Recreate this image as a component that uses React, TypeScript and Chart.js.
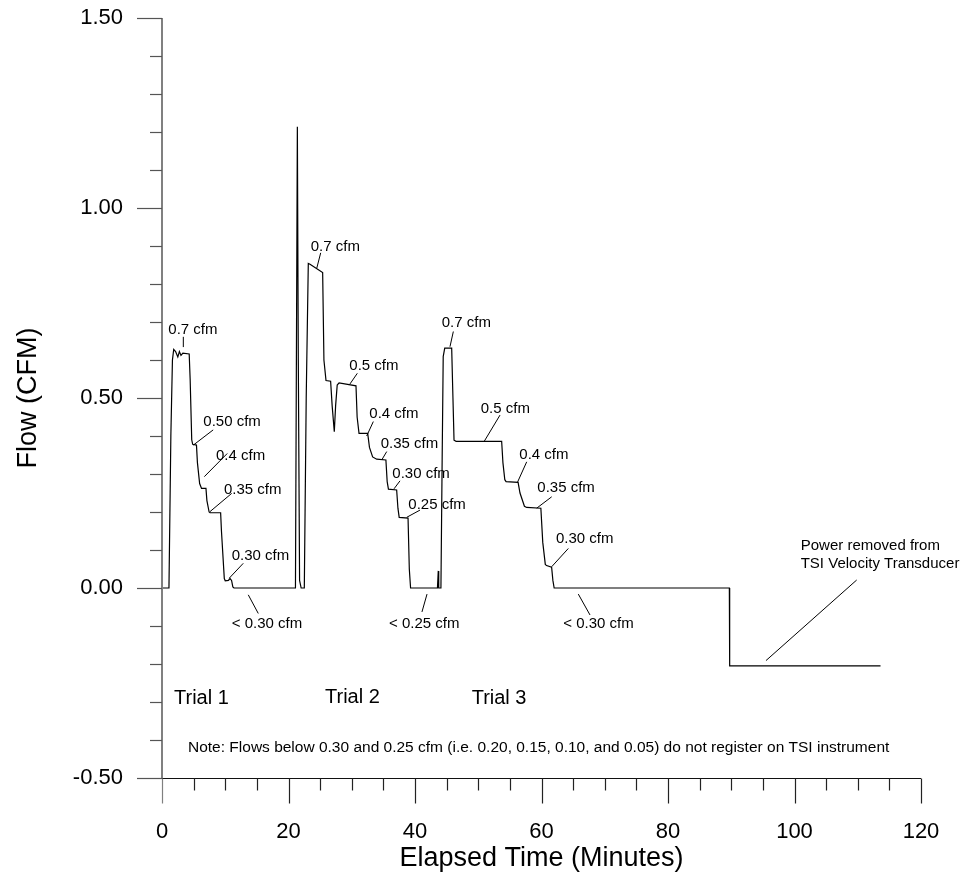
import { useEffect, useRef } from "react";
import { Chart, registerables } from "chart.js";

Chart.register(...registerables);

// ---- Data (elapsed minutes, flow in CFM) ----
const trial1Time = [0, 1.1, 1.4, 1.65, 1.85, 2.15, 2.5, 2.75, 3.0, 3.3, 4.3, 4.45, 4.7, 4.85, 5.45, 5.6, 5.95, 6.25, 6.95, 7.1, 7.45, 7.6, 9.27, 9.4, 9.85, 10.0, 10.5, 10.75, 11.0, 11.2, 11.38, 21.1];
const trial1Flow = [0, 0, 0.4, 0.6, 0.628, 0.622, 0.608, 0.622, 0.612, 0.618, 0.616, 0.55, 0.39, 0.378, 0.376, 0.33, 0.275, 0.262, 0.262, 0.23, 0.2, 0.198, 0.198, 0.15, 0.025, 0.019, 0.02, 0.025, 0.02, 0.003, 0, 0];

const trial2Time = [21.4, 21.55, 21.75, 22.0, 22.5, 22.8, 23.13, 23.4, 25.4, 25.6, 25.93, 26.66, 26.9, 27.24, 27.45, 27.7, 28.0, 30.67, 30.85, 31.15, 32.52, 32.8, 33.3, 33.94, 35.4, 35.6, 35.8, 37.1, 37.3, 37.5, 38.9, 39.1, 39.3, 43.55, 43.68, 43.75, 44.1];
const trial2Flow = [1.214, 0.6, 0.02, 0, 0, 0.5, 0.854, 0.852, 0.83, 0.6, 0.546, 0.544, 0.48, 0.411, 0.48, 0.534, 0.54, 0.532, 0.45, 0.407, 0.407, 0.37, 0.345, 0.339, 0.337, 0.28, 0.26, 0.258, 0.21, 0.186, 0.184, 0.05, 0, 0, 0.045, 0, 0];

const trial3Time = [44.3, 44.46, 44.7, 45.8, 46.0, 46.17, 46.5, 53.7, 53.9, 54.2, 54.4, 56.3, 56.6, 57.3, 57.66, 59.9, 60.2, 60.6, 60.8, 61.6, 61.8, 62.0, 89.7, 89.75, 113.6];
const trial3Flow = [0.35, 0.609, 0.631, 0.631, 0.5, 0.389, 0.386, 0.386, 0.33, 0.285, 0.28, 0.278, 0.25, 0.215, 0.212, 0.21, 0.12, 0.062, 0.059, 0.055, 0.02, 0, 0, -0.205, -0.205];

const xTickLabels = ["0", "20", "40", "60", "80", "100", "120"];
const yTickLabels = ["-0.50", "0.00", "0.50", "1.00", "1.50"];

const calloutTexts = [
  "0.7 cfm", "0.50 cfm", "0.4 cfm", "0.35 cfm", "0.30 cfm", "< 0.30 cfm",
  "0.7 cfm", "0.5 cfm", "0.4 cfm", "0.35 cfm", "0.30 cfm", "0.25 cfm", "< 0.25 cfm",
  "0.7 cfm", "0.5 cfm", "0.4 cfm", "0.35 cfm", "0.30 cfm", "< 0.30 cfm",
];
const trialLabels = ["Trial 1", "Trial 2", "Trial 3"];
const powerNote = ["Power removed from", "TSI Velocity Transducer"];
const footNote =
  "Note: Flows below 0.30 and 0.25 cfm (i.e. 0.20, 0.15, 0.10, and 0.05) do not register on TSI instrument";

// ---- Layout of the annotations (data coordinates) ----
const calloutLayout = [
  { tx: 1.0, ty: 0.679, l: [3.37, 0.634, 3.37, 0.661] },
  { tx: 6.53, ty: 0.437, l: [4.95, 0.376, 8.09, 0.416] },
  { tx: 8.54, ty: 0.347, l: [6.69, 0.293, 10.32, 0.354] },
  { tx: 9.8, ty: 0.258, l: [7.59, 0.201, 11.02, 0.249] },
  { tx: 11.02, ty: 0.084, l: [10.64, 0.026, 12.85, 0.065] },
  { tx: 11.02, ty: -0.095, l: [13.64, -0.018, 15.22, -0.067] },
  { tx: 23.51, ty: 0.898, l: [24.46, 0.841, 25.09, 0.882] },
  { tx: 29.61, ty: 0.584, l: [29.72, 0.537, 30.88, 0.565] },
  { tx: 32.78, ty: 0.458, l: [32.36, 0.4, 33.41, 0.438] },
  { tx: 34.58, ty: 0.379, l: [34.74, 0.337, 35.53, 0.359] },
  { tx: 36.41, ty: 0.3, l: [36.68, 0.261, 37.63, 0.282] },
  { tx: 38.94, ty: 0.218, l: [38.69, 0.186, 40.79, 0.205] },
  { tx: 35.89, ty: -0.095, l: [41.9, -0.016, 41.1, -0.063] },
  { tx: 44.22, ty: 0.697, l: [45.53, 0.635, 46.06, 0.675] },
  { tx: 50.39, ty: 0.471, l: [50.91, 0.385, 53.44, 0.455] },
  { tx: 56.49, ty: 0.35, l: [56.17, 0.277, 57.66, 0.332] },
  { tx: 59.34, ty: 0.263, l: [59.24, 0.21, 61.61, 0.24] },
  { tx: 62.29, ty: 0.129, l: [61.61, 0.056, 64.24, 0.104] },
  { tx: 63.45, ty: -0.095, l: [65.82, -0.016, 67.67, -0.071] },
];
const trialLayout = [
  { tx: 1.9, ty: -0.292 },
  { tx: 25.77, ty: -0.287 },
  { tx: 48.96, ty: -0.292 },
];
const powerLayout = { tx: 100.98, ty: [0.111, 0.063], l: [95.49, -0.191, 109.83, 0.021] };
const footLayout = { tx: 4.11, ty: -0.421 };

const FONT = '"Liberation Sans", Arial, Helvetica, sans-serif';

const overlayPlugin = {
  id: "overlay",
  afterDraw(chart: any) {
    const { ctx, chartArea } = chart;
    const { left, right, top, bottom } = chartArea;
    const xs = chart.scales.x;
    const ys = chart.scales.y;
    const px = (v: number) => xs.getPixelForValue(v);
    const py = (v: number) => ys.getPixelForValue(v);
    const seg = (x1: number, y1: number, x2: number, y2: number) => {
      ctx.beginPath();
      ctx.moveTo(x1, y1);
      ctx.lineTo(x2, y2);
      ctx.stroke();
    };
    ctx.save();
    // y axis line & ticks
    ctx.strokeStyle = "#808080";
    ctx.lineWidth = 2;
    seg(left, top, left, bottom);
    ctx.strokeStyle = "#555";
    ctx.lineWidth = 1.2;
    for (let i = 0; i <= 20; i++) {
      const yy = Math.round(py(-0.5 + i * 0.1)) + 0.5;
      const len = i % 5 === 0 ? 25 : 12;
      seg(left - len, yy, left, yy);
    }
    // x axis line & ticks
    ctx.strokeStyle = "#111";
    ctx.lineWidth = 1.2;
    const by = Math.round(bottom) + 0.5;
    seg(left, by, right, by);
    for (let i = 0; i <= 24; i++) {
      const xx = Math.round(px(i * 5)) + 0.5;
      const len = i % 4 === 0 ? 25 : 12;
      ctx.strokeStyle = i === 0 ? "#808080" : "#222";
      seg(xx, by, xx, by + len);
    }
    // callouts
    ctx.strokeStyle = "#000";
    ctx.lineWidth = 1;
    ctx.fillStyle = "#000";
    ctx.textAlign = "left";
    ctx.textBaseline = "middle";
    ctx.font = `15px ${FONT}`;
    calloutTexts.forEach((t, i) => {
      const c = calloutLayout[i];
      ctx.fillText(t, px(c.tx), py(c.ty));
      seg(px(c.l[0]), py(c.l[1]), px(c.l[2]), py(c.l[3]));
    });
    powerNote.forEach((t, i) => {
      ctx.fillText(t, px(powerLayout.tx), py(powerLayout.ty[i]));
    });
    seg(px(powerLayout.l[0]), py(powerLayout.l[1]), px(powerLayout.l[2]), py(powerLayout.l[3]));
    ctx.font = `15.5px ${FONT}`;
    ctx.fillText(footNote, px(footLayout.tx), py(footLayout.ty));
    ctx.font = `20px ${FONT}`;
    trialLabels.forEach((t, i) => {
      ctx.fillText(t, px(trialLayout[i].tx), py(trialLayout[i].ty));
    });
    ctx.restore();
  },
};

export default function App() {
  const ref = useRef<HTMLCanvasElement | null>(null);
  useEffect(() => {
    if (!ref.current) return;
    const times = [...trial1Time, ...trial2Time, ...trial3Time];
    const flows = [...trial1Flow, ...trial2Flow, ...trial3Flow];
    const points = times.map((t, i) => ({ x: t, y: flows[i] }));
    const chart = new Chart(ref.current, {
      type: "line",
      data: {
        datasets: [
          {
            label: "Flow",
            data: points,
            borderColor: "#000",
            borderWidth: 1.2,
            pointRadius: 0,
            tension: 0,
            fill: false,
          },
        ],
      },
      options: {
        animation: false,
        responsive: true,
        maintainAspectRatio: false,
        layout: { autoPadding: false, padding: { left: 0, top: 18, right: 46, bottom: 0 } },
        plugins: { legend: { display: false }, tooltip: { enabled: false } },
        scales: {
          x: {
            type: "linear",
            min: 0,
            max: 120,
            grid: { display: false, drawTicks: false },
            border: { display: false },
            ticks: {
              stepSize: 20,
              padding: 41,
              color: "#000",
              font: { family: FONT, size: 22 },
              maxRotation: 0,
              callback: (v: any) => xTickLabels[Math.round(Number(v) / 20)] ?? "",
            },
            title: {
              display: true,
              text: "Elapsed Time (Minutes)",
              color: "#000",
              font: { family: FONT, size: 27 },
              padding: { top: 0, bottom: 1 },
            },
            afterFit: (s: any) => {
              s.height = 98;
              s.paddingLeft = 0;
              s.paddingRight = 0;
              s.paddingTop = 0;
              s.paddingBottom = 0;
            },
          },
          y: {
            type: "linear",
            min: -0.5,
            max: 1.5,
            grid: { display: false, drawTicks: false },
            border: { display: false },
            ticks: {
              stepSize: 0.5,
              padding: 39,
              color: "#000",
              font: { family: FONT, size: 22 },
              callback: (v: any) => yTickLabels[Math.round((Number(v) + 0.5) / 0.5)] ?? "",
            },
            title: {
              display: true,
              text: "Flow (CFM)",
              color: "#000",
              font: { family: FONT, size: 27 },
              padding: { top: 12, bottom: 0 },
            },
            afterFit: (s: any) => {
              s.width = 162;
              s.paddingLeft = 0;
              s.paddingRight = 0;
              s.paddingTop = 0;
              s.paddingBottom = 0;
            },
          },
        },
      },
      plugins: [overlayPlugin],
    });
    return () => chart.destroy();
  }, []);
  return (
    <div style={{ position: "fixed", left: 0, top: 0, width: 967, height: 876, background: "#fff" }}>
      <canvas ref={ref} />
    </div>
  );
}
